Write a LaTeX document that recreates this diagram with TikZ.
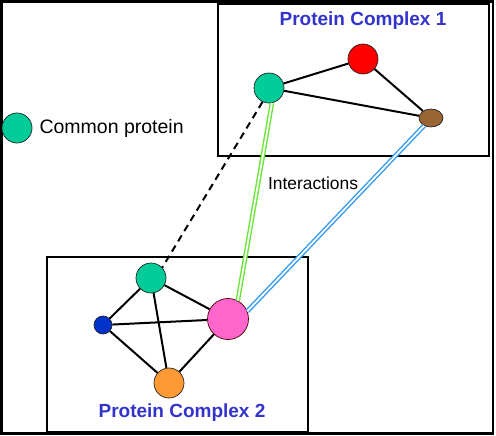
\documentclass[tikz,border=0pt]{standalone}
\usepackage{fontspec}
\setmainfont{Liberation Sans}
\usetikzlibrary{shapes.geometric}
\definecolor{commongreen}{RGB}{0,204,153}
\definecolor{titleblue}{RGB}{51,51,204}
\definecolor{pinkprot}{RGB}{255,102,204}
\definecolor{orangeprot}{RGB}{255,153,51}
\definecolor{blueprot}{RGB}{0,51,204}
\definecolor{brownprot}{RGB}{153,102,51}
\definecolor{linkgreen}{RGB}{102,230,51}
\definecolor{linkblue}{RGB}{51,153,238}
\tikzset{
  protein/.style={circle,draw=black!85,line width=0.7pt,inner sep=0pt,minimum size=30pt},
  edge/.style={line width=2pt},
  complexbox/.style={draw,line width=2pt},
  title/.style={font=\bfseries\fontsize{19}{22}\selectfont,text=titleblue},
  interaction/.style={line width=1.4pt,double=white,double distance=1.8pt},
}
\begin{document}
\begin{tikzpicture}[x=1pt,y=-1pt]
    \useasboundingbox (0,0) rectangle (496,436);
    \draw [line width=2.5pt] (1.5,1.5) rectangle (493,433.5);
    \draw [complexbox] (218,4) rectangle (489,156);
    \draw [complexbox] (47,257) rectangle (308,432);
    \node [title] (title1) at (363,21) {Protein Complex 1};
    \node [title] (title2) at (182,413) {Protein Complex 2};
    \node [protein,fill=commongreen] (key) at (17,128) {};
    \node [anchor=west,font=\fontsize{19.5}{22}\selectfont] (keytext) at (36,128) {Common protein};
    \node [protein,fill=commongreen] (green1) at (269,88) {};
    \node [protein,fill=red] (red1) at (363,59) {};
    \node [ellipse,draw=black!85,line width=0.7pt,fill=brownprot,inner sep=0pt,minimum width=24pt,minimum height=18pt] (brown1) at (431,118) {};
    \node [protein,fill=commongreen] (green2) at (151,278) {};
    \node [protein,fill=blueprot,minimum size=18pt] (blue2) at (103,325) {};
    \node [protein,fill=pinkprot,minimum size=41pt,draw=black!70!red] (pink2) at (228,319) {};
    \node [protein,fill=orangeprot] (orange2) at (169,383) {};
    \draw [edge] (green1) -- (red1);
    \draw [edge] (red1) -- (brown1);
    \draw [edge] (green1) -- (brown1);
    \foreach \a/\b in {green2/blue2,green2/pink2,green2/orange2,blue2/pink2,blue2/orange2,pink2/orange2}
        {\draw [edge] (\a) -- (\b);}
    \draw [edge,dash pattern=on 7pt off 5pt] (green1.245) -- (green2.43);
    \draw [interaction,draw=linkgreen] (green1.281) -- (pink2.62);
    \draw [interaction,draw=linkblue] (brown1.228) -- (pink2.22);
    \node [font=\fontsize{17.4}{20}\selectfont] (links) at (313,183) {Interactions};
  \end{tikzpicture}
\end{document}
